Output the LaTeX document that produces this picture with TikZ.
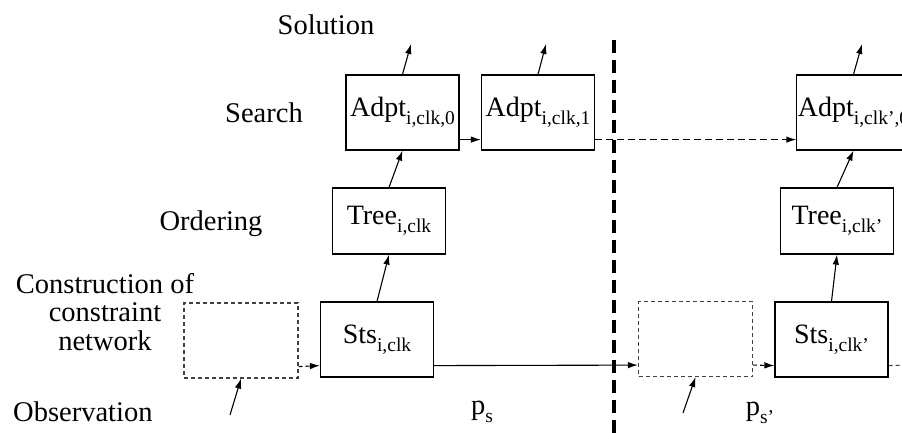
\documentclass[tikz,border=0pt]{standalone}
\usepackage{fontspec}
\setmainfont{Liberation Serif}
\usetikzlibrary{arrows.meta}
\usetikzlibrary{positioning}
\usetikzlibrary{calc}

% main text with a lowered index
\newcommand{\stagename}[2]{#1\raisebox{-8pt}{\fontsize{19.5}{20}\selectfont #2}}

\tikzset{
  stage/.style={draw, line width=1.2pt, minimum width=113pt, minimum height=75pt, inner sep=1pt,
    font=\fontsize{28}{30}\selectfont},
  ghost/.style={draw=black!75, dash pattern=on 4pt off 3pt, line width=1.2pt,
    minimum width=114pt, minimum height=75pt},
  flow/.style={line width=1.1pt, -{Latex[length=10pt,width=6.5pt]}},
  phase/.style={align=center, inner sep=0pt, font=\fontsize{28.5}{28.5}\selectfont},
}

\begin{document}
\begin{tikzpicture}[x=1pt, y=-1pt]
\useasboundingbox (0,0) rectangle (902,433);

% row labels
\node[phase] (solution) at (326,25) {Solution};
\node[phase] (search) at (264,113) {Search};
\node[phase] (ordering) at (211,224) {Ordering};
\node[phase] (construction) at (105,312) {Construction of\\constraint\\network};
\node[phase, anchor=west] (observation) at (13,412) {Observation};

% first period
\node[ghost] (obs0) at (241,340.5) {};
\node[stage] (sts0) at (377,339.5) {\stagename{Sts}{i,clk}};
\node[stage, minimum height=66pt] (tree0) at (389,221) {\stagename{Tree}{i,clk}};
\node[stage] (adpt0) at (402.5,112.5) {\stagename{Adpt}{i,clk,0}};
\node[stage] (adpt1) at (538,112.5) {\stagename{Adpt}{i,clk,1}};

% second period
\node[ghost] (obs1) at (695.5,339) {};
\node[stage] (sts1) at (831.5,339.5) {\stagename{Sts}{i,clk’}};
\node[stage, minimum height=66pt] (tree1) at (837,221) {\stagename{Tree}{i,clk’}};
\node[stage] (adpt2) at (853.5,112.5) {\stagename{Adpt}{i,clk’,0}};

\node[phase] (ps0) at (482,412) {\stagename{p}{s}};
\node[phase] (ps1) at (760,413) {\stagename{p}{s’}};

\coordinate (sol0) at (411,44);
\coordinate (sol1) at (546,44);
\coordinate (sol2) at (862,44);
\coordinate (in0) at (230,415);
\coordinate (in1) at (683,413);
\coordinate (next) at (910,365);

\foreach \a/\b in {sts0/tree0, tree0/adpt0, sts1/tree1, tree1/adpt2}
{
\draw[flow] (\a.north) -- (\b.south);
}

\foreach \a/\b in {adpt0/sol0, adpt1/sol1, adpt2/sol2}
{
\draw[flow] (\a.north) -- (\b);
}

\draw[flow] (in0) -- (obs0.south);
\draw[flow] (in1) -- (obs1.south);

\draw[flow] ([yshift=11pt]adpt0.south east) -- ([yshift=11pt]adpt1.south west);
\draw[flow, dash pattern=on 7pt off 4pt] ([yshift=11pt]adpt1.south east) -- ([yshift=11pt]adpt2.south west);

\draw[flow] ([yshift=12pt]sts0.south east) -- ([yshift=12pt]obs1.south west);
\draw[flow, dash pattern=on 4pt off 3pt] ([yshift=12pt]obs0.south east) -- ([yshift=12pt]sts0.south west);
\draw[flow, dash pattern=on 4pt off 3pt] ([yshift=12pt]obs1.south east) -- ([yshift=12pt]sts1.south west);
\draw[black!75, line width=1.1pt, dash pattern=on 4pt off 3pt] ([yshift=12pt]sts1.south east) -- (next);

% period boundary
\draw[line width=3.5pt, dash pattern=on 13pt off 7pt] (614,40) -- (614,433);

\end{tikzpicture}
\end{document}
